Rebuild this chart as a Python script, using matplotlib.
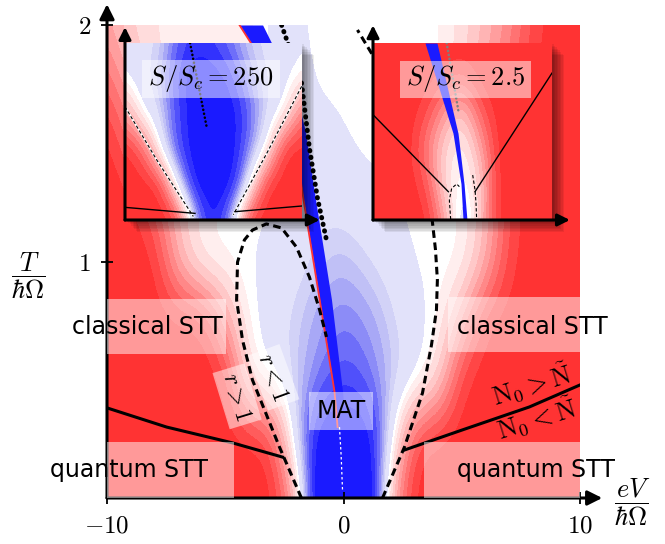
import numpy as np
import matplotlib
matplotlib.use('Agg')
import matplotlib.pyplot as plt
from matplotlib.patches import Rectangle
from matplotlib.colors import ListedColormap, BoundaryNorm

plt.rcParams['mathtext.fontset'] = 'cm'
plt.rcParams['font.family'] = ['DejaVu Sans']

# ---- main map: value > 0 -> red (STT), value < 0 -> blue (MAT) ----
bias = np.arange(-10, 11, 1)          # eV / hbar Omega
temp = np.arange(0, 2.01, 0.25)       # T / hbar Omega
field = np.array([
    [1, 1, 1, 1, 1, 1, 1, 1, 0.5, -1.4, -1.2, -1.4, 0.4, 1, 1, 1, 1, 1, 1, 1, 1],
    [1, 1, 1, 1, 1, 1, 1, 0.9, -0.2, -1.1, -1.1, -1.1, -0.1, 0.9, 1, 1, 1, 1, 1, 1, 1],
    [1, 1, 1, 1, 1, 1, 0.1, -0.05, -0.25, -0.5, -0.7, -0.55, -0.3, -0.12, 0.15, 0.95, 1, 1, 1, 1, 1],
    [1, 1, 1, 1, 1, 0.45, 0.0, -0.12, -0.25, -0.4, -0.5, -0.42, -0.24, -0.08, 0.0, 0.4, 0.95, 1, 1, 1, 1],
    [1, 1, 1, 0.35, 0.0, 0.0, -0.02, -0.08, -0.12, -0.25, -0.32, -0.2, -0.12, -0.02, 0.0, 0.0, 0.35, 0.9, 1, 1, 1],
    [1, 1, 0.7, 0.3, 0.1, 0.03, 0.0, -0.02, -0.06, -0.15, -0.12, -0.08, -0.04, 0.0, 0.0, 0.03, 0.3, 0.85, 1, 1, 1],
    [1, 0.7, 0.3, 0.12, 0.06, 0.03, 0.02, -0.03, -0.1, -0.12, -0.04, 0, 0, 0, 0.02, 0.15, 0.55, 0.85, 1, 1, 1],
    [0.75, 0.4, 0.15, 0.08, 0.05, 0.03, 0.02, -0.05, -0.1, 0.0, 0.0, 0, 0, 0, 0.02, 0.2, 0.45, 0.7, 0.95, 1, 1],
    [0.45, 0.2, 0.12, 0.07, 0.06, 0.05, 0.1, -0.08, -0.05, 0.0, 0.0, 0, 0, 0, 0.02, 0.15, 0.35, 0.55, 0.85, 1, 1],
])

# narrow MAT stripe
stripe_T = [0.3, 0.45, 0.84, 1.26, 1.55, 1.72, 2.0]
stripe_left = [-0.25, -0.38, -1.01, -1.69, -2.11, -2.62, -4.40]
stripe_right = [0.08, -0.04, -0.51, -1.18, -1.61, -2.03, -3.42]
center_T = [0.3, 0.18, 0.03]
center_x = [-0.17, -0.1, -0.04]

# r = 1 boundaries (dashed)
loop_x = [-1.78, -2.71, -3.85, -4.27, -4.52, -4.48, -4.19, -3.85, -3.26, -2.62, -1.99, -1.44, -1.01, -0.72]
loop_T = [0.0, 0.216, 0.499, 0.668, 0.837, 0.998, 1.091, 1.133, 1.159, 1.142, 1.061, 0.934, 0.795, 0.681]
rbound_x = [1.65, 2.58, 3.34, 3.72, 3.93, 3.97, 3.89, 3.76, 3.0, 1.95, 1.23, 0.59]
rbound_T = [0.0, 0.216, 0.444, 0.647, 0.795, 0.922, 1.049, 1.167, 1.47, 1.725, 1.873, 1.979]

# N0 = N~ lines
nleft_x = [-10, -7.48, -4.69, -2.58]
nleft_T = [0.381, 0.300, 0.233, 0.173]
nright_x = [2.58, 5.03, 7.86, 10]
nright_T = [0.203, 0.288, 0.385, 0.478]

# dotted line
dot_x = [-2.62, -1.78, -1.44, -1.10, -0.72]
dot_T = [2.0, 1.759, 1.480, 1.268, 1.091]

# ---- insets ----
bias_in = np.arange(-10, 11, 2)
temp_in = np.arange(0, 2.01, 0.4)
field_250 = np.array([
    [1, 1, 1, 1, -0.3, -1, -0.3, 1, 1, 1, 1],
    [1, 1, 1, -0.1, -1, -1, -1, -0.05, 1, 1, 1],
    [1, 0.8, -0.05, -0.7, -1, -1, -1, -0.5, -0.02, 1, 1],
    [0.5, -0.05, -0.2, -0.7, -1, -1, -1, -0.6, -0.2, -0.02, 0.7],
    [-0.02, -0.15, -0.3, -0.8, -1, -1, -0.8, -0.4, -0.2, -0.1, 0.05],
    [-0.1, -0.15, -0.2, -0.6, -0.8, -0.7, -0.5, -0.25, -0.15, -0.12, -0.05],
])
field_25 = np.array([
    [1, 1, 1, 1, 0.5, -0.3, 0.3, 1, 1, 1, 1],
    [1, 1, 1, 0.85, 0.15, -0.05, 0.2, 1, 1, 1, 1],
    [1, 1, 1, 0.6, 0.2, 0.0, 0.4, 1, 1, 1, 1],
    [1, 1, 1, 0.85, 0.45, 0.2, 0.75, 1, 1, 1, 1],
    [1, 1, 1, 1, 0.9, 0.8, 1, 1, 1, 1, 1],
    [1, 1, 1, 1, 1, 1, 1, 1, 1, 1, 1],
])
i250_dl_x, i250_dl_T = [-10, -6.42, -2.28], [1.28, 0.68, 0.04]
i250_dr_x, i250_dr_T = [9.96, 6.0, 2.24], [1.51, 0.75, 0.06]
i250_sl_x, i250_sl_T = [-10, -2.09], [0.143, 0.075]
i250_sr_x, i250_sr_T = [2.43, 9.96], [0.094, 0.158]
i250_dot_x, i250_dot_T = [-2.65, -0.77], [2.0, 1.05]

i25_stripe_T = [0.0, 0.41, 0.98, 2.0]
i25_stripe_left = [0.06, -0.17, -1.06, -4.19]
i25_stripe_right = [0.5, 0.17, -0.5, -2.85]
i25_sl_x, i25_sl_T = [-10, -1.58], [1.19, 0.32]
i25_sr_x, i25_sr_T = [1.4, 10], [0.32, 1.66]
i25_dl_x, i25_dl_T = [-1.32, -1.47, -1.21, -0.65, -0.35], [0.0075, 0.226, 0.358, 0.407, 0.377]
i25_dr_x, i25_dr_T = [1.14, 1.40, 1.51, 1.58], [0.508, 0.339, 0.188, 0.0075]
i25_dot_x, i25_dot_T = [-1.77, -0.47], [2.0, 1.24]

# colour bands
levels = [-1.05, -0.85, -0.72, -0.6, -0.5, -0.42, -0.34, -0.27, -0.2, -0.03,
          0.04, 0.12, 0.22, 0.32, 0.42, 0.52, 0.62, 0.72, 0.82, 0.92, 1.05]
colors = ['#1a1aff', '#3232fd', '#5050fb', '#6e6ef9', '#8c8cf7', '#a8a8f6', '#c0c0f6', '#d2d2f7', '#e2e2fa',
          '#ffffff',
          '#ffeeee', '#ffdcdc', '#ffc8c8', '#ffb4b4', '#ff9e9e', '#ff8888', '#ff7272', '#ff5c5c', '#ff4646', '#ff3333']
BLUE = '#1a1aff'
RED = '#ff3333'
cmap = ListedColormap(colors)
cmap.set_over(RED)
cmap.set_under(BLUE)
norm = BoundaryNorm(levels, cmap.N)
dash = (0, (2.5, 1.5))

W, H = 665, 544
fig = plt.figure(figsize=(W / 100, H / 100), dpi=100)


def px_axes(x0, y0, x1, y1, z):
    return fig.add_axes([x0 / W, 1 - y1 / H, (x1 - x0) / W, (y1 - y0) / H], zorder=z)


def draw_map(a, xs, ts, vals):
    dx = (xs[1] - xs[0]) / 2
    dt = (ts[1] - ts[0]) / 2
    a.imshow(vals, origin='lower', aspect='auto', cmap=cmap, norm=norm,
             extent=(xs[0] - dx, xs[-1] + dx, ts[0] - dt, ts[-1] + dt),
             interpolation='bicubic', interpolation_stage='data')


def arrows(a, tipx, tipy, lw, ms):
    st = dict(arrowstyle='-|>', lw=lw, color='k', shrinkA=0, shrinkB=0, mutation_scale=ms)
    a.annotate('', xy=(tipx, 0), xytext=(0, 0), xycoords='axes fraction',
               arrowprops=st, annotation_clip=False, zorder=4)
    a.annotate('', xy=(0, tipy), xytext=(0, 0), xycoords='axes fraction',
               arrowprops=st, annotation_clip=False, zorder=4)


# ---------------- main axes ----------------
ax = px_axes(107, 25, 580, 498, 0)
draw_map(ax, bias, temp, field)
ax.fill_betweenx(stripe_T, stripe_left, stripe_right, color=BLUE, lw=0, zorder=2)
ax.plot(stripe_left, stripe_T, color=RED, lw=1.3, zorder=2)
ax.plot(center_x, center_T, color='white', lw=0.9, ls=(0, (2, 2)), zorder=2)

ax.plot(loop_x, loop_T, color='k', lw=2.2, ls=dash, zorder=3)
ax.plot(rbound_x, rbound_T, color='k', lw=2.2, ls=dash, zorder=3)
ax.plot(nleft_x, nleft_T, color='k', lw=2.2, zorder=3)
ax.plot(nright_x, nright_T, color='k', lw=2.2, zorder=3)
ax.plot(dot_x, dot_T, color='k', lw=3.5, ls=(0, (0.1, 1.3)), dash_capstyle='round', zorder=3)

ax.set_xlim(-10, 10)
ax.set_ylim(0, 2)
for s in ax.spines.values():
    s.set_visible(False)
ax.set_xticks([-10, 0, 10], [r'$-10$', r'$0$', r'$10$'])
ax.set_yticks([1, 2], [r'$1$', r'$2$'])
ax.tick_params(direction='inout', length=9, width=1.3, labelsize=18, pad=7)
arrows(ax, 1.047, 1.044, 2.2, 22)

# label boxes
boxes = [(-10, 0.609, 5.05, 0.232), (4.40, 0.617, 5.60, 0.233),
         (-10, 0.0, 5.39, 0.237), (3.42, 0.0, 6.58, 0.237),
         (-1.44, 0.288, 2.67, 0.160)]
for bx, by, bw, bh in boxes:
    ax.add_patch(Rectangle((bx, by), bw, bh, fc='white', ec='none', alpha=0.5, zorder=5))

lab = dict(fontsize=17, ha='center', va='center', zorder=6)
ax.text(-8.29, 0.723, 'classical STT', **lab)
ax.text(7.99, 0.723, 'classical STT', **lab)
ax.text(-9.05, 0.118, 'quantum STT', **lab)
ax.text(8.12, 0.118, 'quantum STT', **lab)
ax.text(-0.08, 0.366, 'MAT', **lab)
rb = dict(boxstyle='square,pad=0.2', fc='white', ec='none', alpha=0.5)
ax.text(-4.5, 0.43, r'$r>1$', rotation=-73, bbox=rb, fontsize=17, ha='center', va='center', zorder=6)
ax.text(-2.95, 0.51, r'$r<1$', rotation=-70, bbox=rb, fontsize=17, ha='center', va='center', zorder=6)
ax.text(7.95, 0.478, r'$\mathrm{N}_0>\tilde{\mathrm{N}}$', rotation=17, fontsize=19,
        ha='center', va='center', zorder=6)
ax.text(8.16, 0.334, r'$\mathrm{N}_0<\tilde{\mathrm{N}}$', rotation=17, fontsize=19,
        ha='center', va='center', zorder=6)

fig.text(28 / W, 1 - 276 / H, r'$\dfrac{T}{\hbar\Omega}$', fontsize=19, ha='center', va='center')
fig.text(632 / W, 1 - 502 / H, r'$\dfrac{eV}{\hbar\Omega}$', fontsize=19, ha='center', va='center')


# ---------------- insets ----------------
def shadow(x0, y0, x1, y1):
    for i in range(1, 9):
        d = 1.5 * i
        fig.add_artist(Rectangle(((x0 + d) / W, 1 - (y1 + d) / H), (x1 - x0) / W, (y1 - y0) / H,
                                 transform=fig.transFigure, fc='k', ec='none', alpha=0.07, zorder=1))


def setup(a):
    a.set_xlim(-10, 10)
    a.set_ylim(0, 2)
    a.set_xticks([])
    a.set_yticks([])
    for s in a.spines.values():
        s.set_visible(False)


shadow(125, 43, 302, 220)
axl = px_axes(125, 43, 302, 220, 2)
draw_map(axl, bias_in, temp_in, field_250)
for xs, ts in [(i250_dl_x, i250_dl_T), (i250_dr_x, i250_dr_T)]:
    axl.plot(xs, ts, color='white', lw=1.4)
    axl.plot(xs, ts, color='k', lw=0.8, ls=(0, (3, 2)))
axl.plot(i250_sl_x, i250_sl_T, color='k', lw=1)
axl.plot(i250_sr_x, i250_sr_T, color='k', lw=1)
axl.plot(i250_dot_x, i250_dot_T, color='k', lw=1.8, ls=(0, (0.1, 1.5)), dash_capstyle='round')
axl.add_patch(Rectangle((0.096, 0.689), 0.78, 0.215, transform=axl.transAxes,
                        fc='white', ec='none', alpha=0.5, zorder=5))
axl.text(0.486, 0.797, r'$S/S_c=250$', transform=axl.transAxes, fontsize=19,
         ha='center', va='center', zorder=6)
setup(axl)
arrows(axl, 1.10, 1.09, 2.2, 18)

shadow(373, 43, 552, 220)
axr = px_axes(373, 43, 552, 220, 2)
draw_map(axr, bias_in, temp_in, field_25)
axr.fill_betweenx(i25_stripe_T, i25_stripe_left, i25_stripe_right, color=BLUE, lw=0)
axr.plot(i25_sl_x, i25_sl_T, color='k', lw=1)
axr.plot(i25_sr_x, i25_sr_T, color='k', lw=1)
axr.plot(i25_dl_x, i25_dl_T, color='k', lw=0.8, ls=(0, (3, 2)))
axr.plot(i25_dr_x, i25_dr_T, color='k', lw=0.8, ls=(0, (3, 2)))
axr.plot(i25_dot_x, i25_dot_T, color='0.5', lw=1.8, ls=(0, (0.1, 1.5)), dash_capstyle='round')
axr.add_patch(Rectangle((0.15, 0.689), 0.733, 0.209, transform=axr.transAxes,
                        fc='white', ec='none', alpha=0.5, zorder=5))
axr.text(0.517, 0.797, r'$S/S_c=2.5$', transform=axr.transAxes, fontsize=19,
         ha='center', va='center', zorder=6)
setup(axr)
arrows(axr, 1.10, 1.10, 2.2, 18)

fig.savefig('out.png', dpi=100)
